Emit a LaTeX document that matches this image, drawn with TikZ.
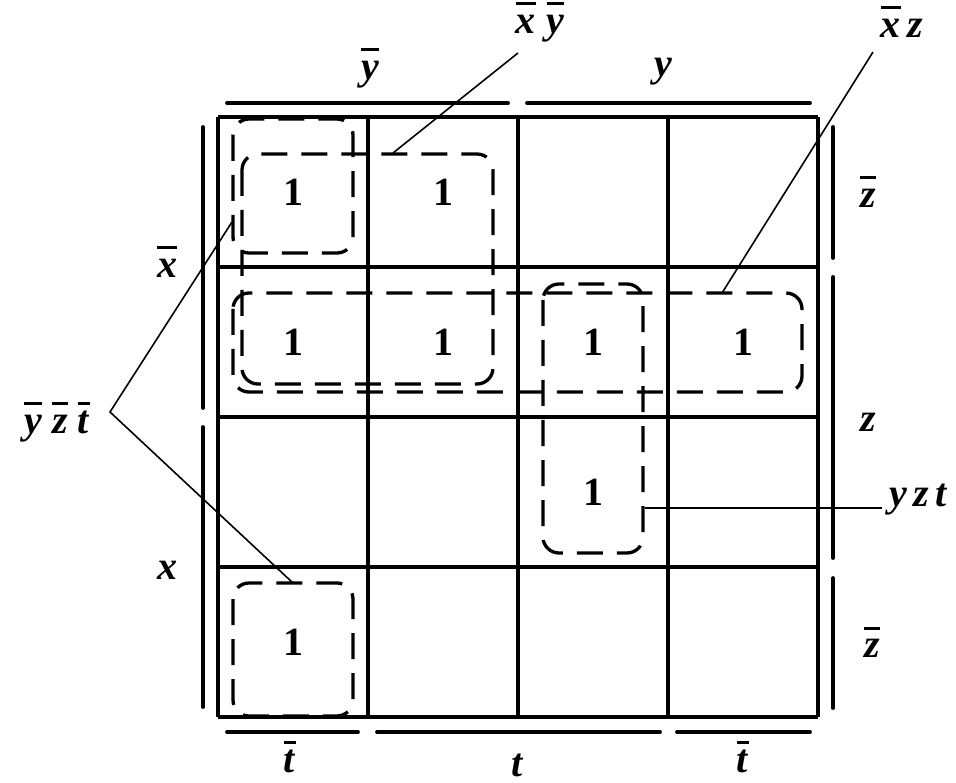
\documentclass[tikz,border=0pt]{standalone}
\usepackage{fontspec}
\setmainfont{Liberation Serif}
\newcommand{\bv}[1]{\textbf{\textit{#1}}}
\newcommand{\nv}[1]{\setbox0\hbox{\bv{#1}}\rlap{\raisebox{28pt}{\rule{\wd0}{3pt}}}\box0}
\begin{document}
\begin{tikzpicture}[x=1pt, y=-1pt,
    every node/.style={font=\fontsize{40}{48}\selectfont, inner sep=0pt},
    cellline/.style={line width=3.5pt},
    sidebar/.style={line width=3.8pt, line cap=round},
    grp/.style={line width=3.3pt, dash pattern=on 26pt off 14pt, rounded corners=16pt},
    lead/.style={line width=1.6pt}]
    \useasboundingbox (0,0) rectangle (956,783);
    % the map
    \foreach \i in {0,...,4} {
        \draw[cellline] (218+150*\i,117) -- (218+150*\i,717);
        \draw[cellline] (218,117+150*\i) -- (818,117+150*\i);
    }
    % side bars
    \draw[sidebar] (227,103) -- (508,103);
    \draw[sidebar] (527,103) -- (810,103);
    \draw[sidebar] (203,127) -- (203,408);
    \draw[sidebar] (203,427) -- (203,707);
    \draw[sidebar] (833,127) -- (833,258);
    \draw[sidebar] (833,277) -- (833,558);
    \draw[sidebar] (833,578) -- (833,708);
    \draw[sidebar] (227,732) -- (358,732);
    \draw[sidebar] (377,732) -- (660,732);
    \draw[sidebar] (677,732) -- (810,732);
    % variable names
    \node (ny) at (370,68) {\nv{y}};
    \node (py) at (663,72) {\bv{y}};
    \node (nx) at (167,262) {\nv{x}};
    \node (px) at (167,570) {\bv{x}};
    \node (nz1) at (868,192) {\nv{z}};
    \node (pz) at (868,422) {\bv{z}};
    \node (nz2) at (872,642) {\nv{z}};
    \node (nt1) at (290,757) {\nv{t}};
    \node (pt) at (518,765) {\bv{t}};
    \node (nt2) at (743,757) {\nv{t}};
    % ones
    \foreach \r/\c in {1/1, 1/2, 2/1, 2/2, 2/3, 2/4, 3/3, 4/1}
        \node (o\r\c) at (143+150*\c,42+150*\r) {\textbf{1}};
    % groups
    \draw[grp] (233,119) rectangle (353,253);
    \draw[grp] (233,583) rectangle (353,716);
    \draw[grp] (242,154) rectangle (493,384);
    \draw[grp] (233,293) rectangle (802,392);
    \draw[grp] (543,284) rectangle (643,553);
    % terms
    \node (xy) at (540,22) {\nv{x}\;\nv{y}};
    \node (xz) at (902,22) {\nv{x}\,\bv{z}};
    \node (yzt) at (57,422) {\nv{y}\ \nv{z}\ \nv{t}};
    \node[anchor=west] (pyzt) at (889,500) {\bv{y}\,\bv{z}\,\bv{t}};
    \coordinate (a1) at (518,53);
    \coordinate (a2) at (873,52);
    \coordinate (a3) at (110,412);
    \draw[lead] (a1) -- (393,153);
    \draw[lead] (a2) -- (722,293);
    \draw[lead] (232,222) -- (a3) -- (293,583);
    \draw[lead] (645,508) -- (882,508);
\end{tikzpicture}
\end{document}
